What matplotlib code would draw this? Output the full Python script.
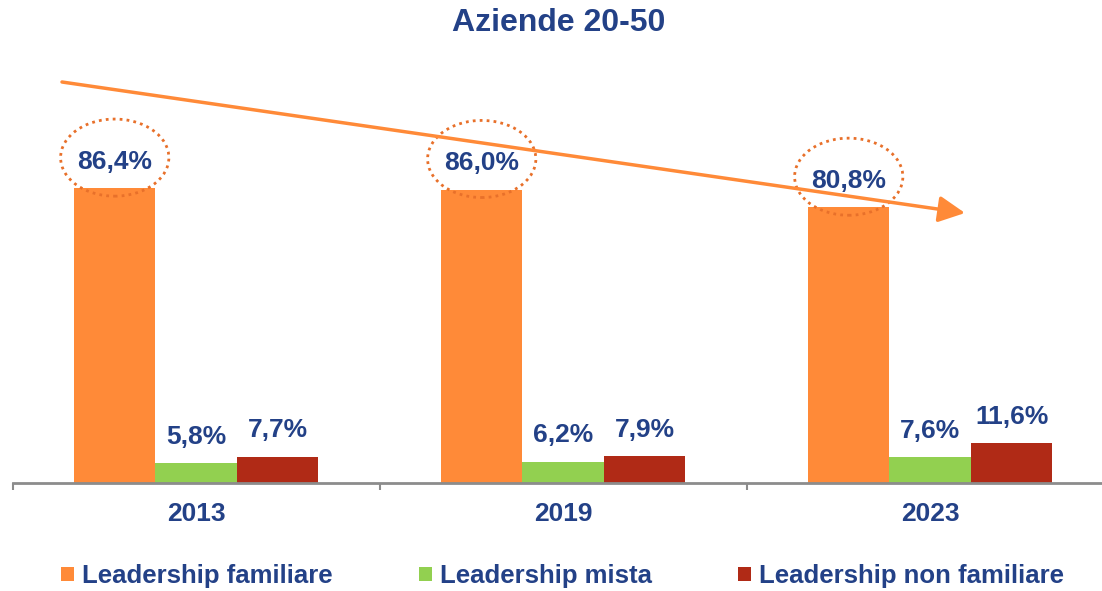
import matplotlib
matplotlib.use("Agg")
import matplotlib.pyplot as plt
from matplotlib.patches import Ellipse, FancyArrowPatch
import numpy as np

years = ["2013", "2019", "2023"]
series_names = ["Leadership familiare", "Leadership mista", "Leadership non familiare"]
familiare = [86.4, 86.0, 80.8]
mista = [5.8, 6.2, 7.6]
non_familiare = [7.7, 7.9, 11.6]
title = "Aziende 20-50"

colors = ["#FF8A38", "#92D050", "#B02A16"]
text_col = "#234187"
plt.rcParams['font.family'] = ['Liberation Sans', 'DejaVu Sans']

W, H = 1102, 591
fig = plt.figure(figsize=(W / 100, H / 100), dpi=100)
ax_left = 12.7 / W
ax_bottom = (H - 483) / H
ax_height = 409.3 / H
ax = fig.add_axes([ax_left, ax_bottom, 1 - ax_left, ax_height])

x = np.arange(len(years))
bw = 0.222
all_series = [familiare, mista, non_familiare]
for i, (vals, name, c) in enumerate(zip(all_series, series_names, colors)):
    xs = x + (i - 1) * bw
    ax.bar(xs, vals, width=bw, color=c, label=name, zorder=2)
    for xi, v in zip(xs, vals):
        ax.annotate(f"{v:.1f}".replace(".", ",") + "%", (xi, v), xytext=(0, 19.1),
                    textcoords="offset points", ha="center", va="center",
                    fontsize=19, fontweight="bold", color=text_col, zorder=4)

# dotted ellipses around the "familiare" labels
for xi, v in zip(x - bw, familiare):
    ax.add_patch(Ellipse((xi, v + 9.0), width=0.295, height=22.6, fill=False,
                         edgecolor="#E8702A", linestyle=(0, (1, 1.5)), linewidth=2,
                         clip_on=False, zorder=3))

for s in ["top", "right", "left"]:
    ax.spines[s].set_visible(False)
ax.spines["bottom"].set_color("#8C8C8C")
ax.spines["bottom"].set_linewidth(2)
ax.set_yticks([])
ax.set_xticks(x)
ax.set_xticklabels(years, fontsize=19, fontweight="bold", color=text_col)
ax.tick_params(axis="x", which="major", length=0, pad=14)
ax.set_xticks(np.arange(-0.5, len(years) + 0.5, 1), minor=True)
ax.tick_params(axis="x", which="minor", length=5, width=1.5, color="#8C8C8C")
ax.set_xlim(-0.5, -0.5 + (W - 12.7) / 367)
ax.set_ylim(0, 120)

# trend arrow
arrow = FancyArrowPatch((62 / W, 1 - 82 / H), (965 / W, 1 - 213 / H),
                        transform=fig.transFigure, arrowstyle="-|>,head_length=1.0,head_width=0.5",
                        mutation_scale=16, color="#FF8A38", linewidth=2.5, zorder=5,
                        shrinkA=0, shrinkB=0)
fig.patches.append(arrow)

fig.text(559 / W, 1 - 23 / H, title, ha="center", va="center", fontsize=23,
         fontweight="bold", color=text_col)

leg = fig.legend(loc="center", bbox_to_anchor=(562.5 / W, 1 - 576 / H), ncol=3,
                 frameon=False, fontsize=18.5, handlelength=0.5, handleheight=0.5,
                 handletextpad=0.31, columnspacing=3.35, borderaxespad=0, borderpad=0)
for t in leg.get_texts():
    t.set_color(text_col)
    t.set_fontweight("bold")

fig.savefig("out.png", dpi=100)
